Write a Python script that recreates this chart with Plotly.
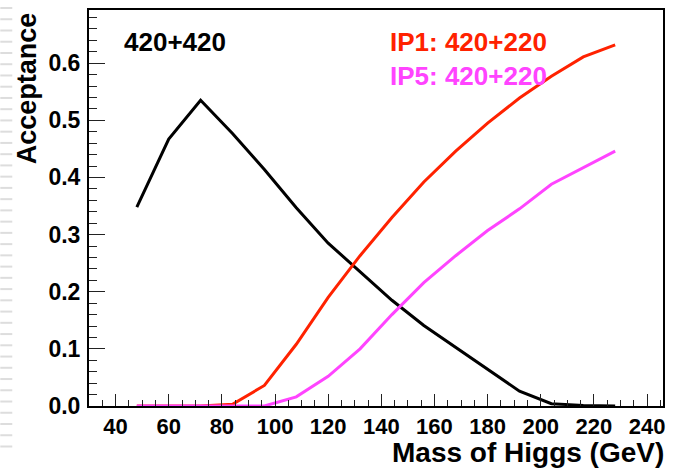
import plotly.graph_objects as go

# Data
mass = [48, 60, 72, 84, 96, 108, 120, 132, 144, 156, 168, 180, 192, 204, 216, 228]
acc_420_420 = [0.348, 0.467, 0.535, 0.477, 0.414, 0.347, 0.285, 0.235, 0.185, 0.141,
               0.103, 0.064, 0.026, 0.004, 0.001, 0.0]
acc_ip1 = [0.0, 0.0, 0.0, 0.003, 0.036, 0.108, 0.190, 0.263, 0.330, 0.392,
           0.446, 0.495, 0.539, 0.577, 0.611, 0.632]
acc_ip5 = [0.0, 0.0, 0.0, 0.0, 0.0, 0.016, 0.052, 0.100, 0.160, 0.216,
           0.263, 0.307, 0.345, 0.388, 0.417, 0.446]

x_ticks = [40, 60, 80, 100, 120, 140, 160, 180, 200, 220, 240]
y_ticks = [0.0, 0.1, 0.2, 0.3, 0.4, 0.5, 0.6]

BLACK = "#000000"
RED = "#ff2200"
MAGENTA = "#ff44ff"
FONT = "Liberation Sans, Arial, Helvetica, sans-serif"

fig = go.Figure()
fig.add_trace(go.Scatter(x=mass, y=acc_420_420, mode="lines",
                         line=dict(color=BLACK, width=3), name="420+420"))
fig.add_trace(go.Scatter(x=mass, y=acc_ip1, mode="lines",
                         line=dict(color=RED, width=3), name="IP1: 420+220"))
fig.add_trace(go.Scatter(x=mass, y=acc_ip5, mode="lines",
                         line=dict(color=MAGENTA, width=3), name="IP5: 420+220"))

axis_common = dict(showgrid=False, zeroline=False, showline=True, linecolor="black",
                   linewidth=2, mirror=True, ticks="inside", tickcolor="#222222",
                   tickwidth=1)

fig.update_xaxes(range=[30, 246], tickvals=x_ticks, ticktext=[str(v) for v in x_ticks],
                 ticklen=12, minor=dict(ticks="inside", dtick=5, tick0=0, ticklen=6,
                                        tickcolor="#222222", tickwidth=1),
                 tickfont=dict(family=FONT, size=22, color="black", weight="bold"),
                 ticklabelstandoff=0, **axis_common)
fig.update_yaxes(range=[0, 0.693], tickvals=y_ticks, ticktext=[f"{v:.1f}" for v in y_ticks],
                 ticklen=16, minor=dict(ticks="inside", dtick=0.02, tick0=0, ticklen=8,
                                        tickcolor="#222222", tickwidth=1),
                 tickfont=dict(family=FONT, size=23, color="black", weight="bold"),
                 ticklabelstandoff=2, **axis_common)

annotations = [
    dict(text="420+420", x=(124 - 89) / 576, y=40, color=BLACK),
    dict(text="IP1: 420+220", x=(391 - 89) / 576, y=40, color=RED),
    dict(text="IP5: 420+220", x=(391 - 89) / 576, y=74, color=MAGENTA),
]
for a in annotations:
    fig.add_annotation(text=a["text"], xref="paper", yref="paper", x=a["x"],
                       y=1 - (a["y"] - 8) / 398, xanchor="left", yanchor="middle",
                       showarrow=False, xshift=-2,
                       font=dict(family=FONT, size=26, color=a["color"], weight="bold"))

# Axis titles
fig.add_annotation(text="Mass of Higgs (GeV)", xref="paper", yref="paper", x=1.0,
                   y=1 - (453 - 8) / 398, xanchor="right", yanchor="middle", showarrow=False,
                   xshift=3,
                   font=dict(family=FONT, size=28, color="black", weight="bold"))
fig.add_annotation(text="Acceptance", xref="paper", yref="paper", x=-(89 - 27) / 576,
                   y=1.0, xanchor="center", yanchor="top", textangle=-90, showarrow=False,
                   font=dict(family=FONT, size=27, color="black", weight="bold"))

# faint page-edge dashes on the far left
shapes = []
for i in range(40):
    yy = 6 + i * 11.3
    if yy > 465:
        break
    shapes.append(dict(type="line", xref="paper", yref="paper",
                       x0=-89 / 576, x1=-77 / 576,
                       y0=1 - (yy - 8) / 398, y1=1 - (yy - 8) / 398,
                       line=dict(color="#dddddd", width=2)))
fig.update_layout(shapes=shapes)

fig.update_layout(width=673, height=469, margin=dict(l=89, r=8, t=8, b=63),
                  paper_bgcolor="white", plot_bgcolor="white", showlegend=False,
                  font=dict(family=FONT))

fig.write_html("out.html", config={"displayModeBar": False},
               post_script="document.body.style.margin='0';document.body.style.padding='0';")
